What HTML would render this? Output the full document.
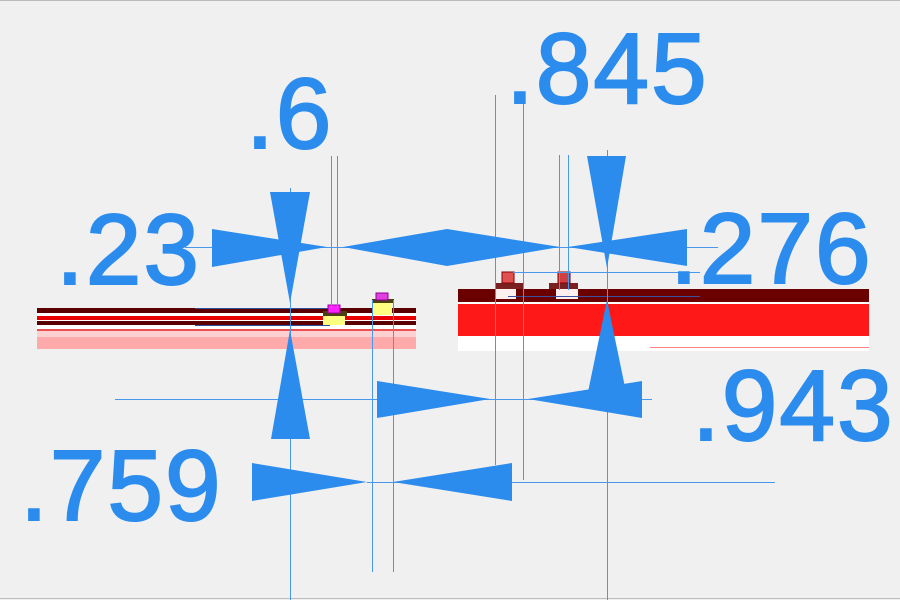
<!DOCTYPE html>
<html><head><meta charset="utf-8"><style>
html,body{margin:0;padding:0;background:#f0f0f0;}
svg{display:block;}
text{font-family:"Liberation Sans",Arial,sans-serif;font-size:100px;fill:#2b8cee;stroke:#2b8cee;stroke-width:2;letter-spacing:2px;}
</style></head><body>
<svg width="900" height="600" viewBox="0 0 900 600">
<rect x="0" y="0" width="900" height="600" fill="#f0f0f0"/>
<line x1="0" y1="0.5" x2="900" y2="0.5" stroke="#bbb"/>
<line x1="0" y1="598.5" x2="900" y2="598.5" stroke="#bbb"/>

<!-- left strip -->
<rect x="37" y="308" width="379" height="5" fill="#5a0000"/>
<rect x="37" y="313" width="379" height="3" fill="#fff"/>
<rect x="37" y="316" width="379" height="4" fill="#e80000"/>
<rect x="37" y="320" width="379" height="1" fill="#fff"/>
<rect x="37" y="321" width="379" height="4" fill="#5a0000"/>
<rect x="37" y="325" width="379" height="4" fill="#fff"/>
<rect x="37" y="329" width="379" height="2" fill="#ee5050"/>
<rect x="37" y="331" width="379" height="6" fill="#ffd0d0"/>
<rect x="37" y="337" width="379" height="12" fill="#ffaaaa"/>
<line x1="195" y1="308.5" x2="330" y2="308.5" stroke="#3050a0"/>
<line x1="195" y1="325.5" x2="330" y2="325.5" stroke="#3050a0"/>
<!-- left components -->
<rect x="323" y="313" width="22" height="12" fill="#ffff80"/>
<rect x="323" y="311" width="24" height="5" fill="#4a4010"/>
<rect x="328" y="305" width="12" height="8" fill="#ff20ff" stroke="#a000a0"/>
<rect x="372" y="301" width="20" height="14" fill="#ffff80"/>
<rect x="372" y="299" width="22" height="4" fill="#4a4010"/>
<rect x="376" y="293" width="12" height="7" fill="#e040e0" stroke="#900090"/>

<!-- right strip -->
<rect x="458" y="289" width="411" height="13" fill="#6a0000"/>
<rect x="458" y="302" width="411" height="2" fill="#fff"/>
<rect x="458" y="304" width="411" height="32" fill="#ff1818"/>
<rect x="458" y="336" width="411" height="15" fill="#fff"/>
<line x1="650" y1="347.5" x2="869" y2="347.5" stroke="#ff8080"/>
<rect x="496" y="285" width="20" height="14" fill="#fff0f0"/>
<rect x="496" y="283" width="27" height="6" fill="#7a2020"/>
<rect x="502" y="272" width="12" height="11" fill="#e05050" stroke="#800"/>
<rect x="556" y="286" width="22" height="13" fill="#fff0f0"/>
<rect x="549" y="283" width="29" height="6" fill="#7a2020"/>
<rect x="558" y="272" width="12" height="11" fill="#d04040" stroke="#800"/>
<line x1="508" y1="296.5" x2="700" y2="296.5" stroke="#3a50a0"/>

<!-- thin dimension lines -->
<g stroke="#4a98ee" stroke-width="1" fill="none">
<line x1="290.5" y1="188" x2="290.5" y2="600"/>
<line x1="331.5" y1="156" x2="331.5" y2="308"/>
<line x1="337.5" y1="156" x2="337.5" y2="308"/>
<line x1="372.5" y1="300" x2="372.5" y2="572"/>
<line x1="393.5" y1="300" x2="393.5" y2="572"/>
<line x1="495.5" y1="95" x2="495.5" y2="465"/>
<line x1="523.5" y1="100" x2="523.5" y2="480"/>
<line x1="559.5" y1="155" x2="559.5" y2="290"/>
<line x1="568.5" y1="155" x2="568.5" y2="290"/>
<line x1="607.5" y1="150" x2="607.5" y2="600"/>
<line x1="185" y1="247.5" x2="718" y2="247.5"/>
<line x1="513" y1="272.5" x2="700" y2="272.5"/>
<line x1="115" y1="399.5" x2="652" y2="399.5"/>
<line x1="367" y1="482.5" x2="775" y2="482.5"/>
</g>

<!-- arrowheads -->
<g fill="#2b8cee">
<polygon points="212,229 212,267 327,247"/>
<polygon points="343,247 447,229 560,247 447,266"/>
<polygon points="568,247 687,229 687,266"/>
<polygon points="270,192 310,192 290,303"/>
<polygon points="587,156 626,156 607,268"/>
<polygon points="290,330 271,439 310,439"/>
<polygon points="607,300 588,392 626,392"/>
<polygon points="377,381 377,418 490,399"/>
<polygon points="528,399 642,381 642,418"/>
<polygon points="252,463 252,501 367,482"/>
<polygon points="393,482 512,463 512,501"/>
</g>

<text x="246" y="148">.6</text>
<text x="506" y="103">.845</text>
<text x="56" y="284">.23</text>
<text x="670" y="283">.276</text>
<text x="692" y="440">.943</text>
<text x="20" y="520">.759</text>
</svg>
</body></html>
